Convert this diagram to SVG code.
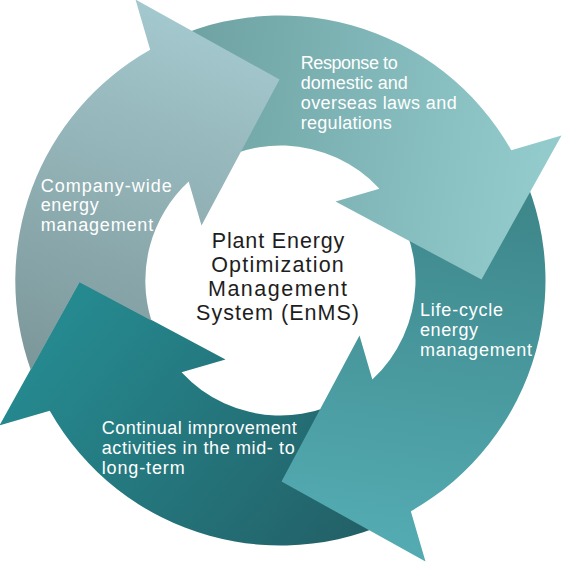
<svg xmlns="http://www.w3.org/2000/svg" width="563" height="562" viewBox="0 0 563 562">
  <defs>
    <linearGradient id="gGray" gradientUnits="userSpaceOnUse" x1="190" y1="20" x2="60" y2="400">
      <stop offset="0" stop-color="#A3C8CD"/>
      <stop offset="1" stop-color="#7A9497"/>
    </linearGradient>
    <linearGradient id="gResp" gradientUnits="userSpaceOnUse" x1="190" y1="100" x2="545" y2="150">
      <stop offset="0" stop-color="#6FA3A4"/>
      <stop offset="1" stop-color="#93CBCC"/>
    </linearGradient>
    <linearGradient id="gLife" gradientUnits="userSpaceOnUse" x1="470" y1="200" x2="420" y2="545">
      <stop offset="0" stop-color="#3E878B"/>
      <stop offset="1" stop-color="#53ABB1"/>
    </linearGradient>
    <linearGradient id="gCont" gradientUnits="userSpaceOnUse" x1="80" y1="290" x2="380" y2="530">
      <stop offset="0" stop-color="#258A90"/>
      <stop offset="1" stop-color="#235F66"/>
    </linearGradient>
  </defs>
  <style>
    .lbl { font-family: "Liberation Sans", Arial, sans-serif; font-size: 18px; fill: #FFFFFF; }
    .ctr { font-family: "Liberation Sans", Arial, sans-serif; font-size: 21.5px; fill: #1E1E1E; text-anchor: middle; }
  </style>

  <g id="connectors"></g>

  <g id="continual">
    <path fill="url(#gCont)" d="M 410.82 511.24 A 265 265 0 0 1 49.76 410.82 L -0.5 425.5 L 79.5 281.5 L 225.5 359.5 L 181.55 372.34 A 135 135 0 0 0 372.34 379.45 Z"/>
    <text class="lbl"><tspan x="101.7" y="434.3" textLength="195">Continual improvement</tspan><tspan x="101.7" y="454.3" textLength="193">activities in the mid- to</tspan><tspan x="101.7" y="473.5" textLength="83">long-term</tspan></text>
  </g>

  <g id="lifecycle">
    <path fill="url(#gLife)" d="M 511.24 150.18 A 265 265 0 0 1 410.82 511.24 L 425.5 561.5 L 281.5 481.5 L 359.5 335.5 L 372.34 379.45 A 135 135 0 0 0 379.45 188.66 Z"/>
    <text class="lbl"><tspan x="420" y="316" textLength="83">Life-cycle</tspan><tspan x="420" y="335.5" textLength="58">energy</tspan><tspan x="420" y="356" textLength="112">management</tspan></text>
  </g>

  <g id="response">
    <path fill="url(#gResp)" d="M 150.18 49.76 A 265 265 0 0 1 511.24 150.18 L 561.5 135.5 L 481.5 279.5 L 335.5 201.5 L 379.45 188.66 A 135 135 0 0 0 188.66 181.55 Z"/>
    <text class="lbl"><tspan x="300.7" y="69.3" textLength="97">Response to</tspan><tspan x="300.7" y="89.3" textLength="107">domestic and</tspan><tspan x="300.7" y="109.3" textLength="156">overseas laws and</tspan><tspan x="300.7" y="128.5" textLength="91">regulations</tspan></text>
  </g>

  <g id="companywide">
    <path fill="url(#gGray)" d="M 30.78 369.89 A 265 265 0 0 1 150.18 49.76 L 135.5 -0.5 L 279.5 79.5 L 201.5 225.5 L 188.66 181.55 A 135 135 0 0 0 151.38 320.6 L 79.5 282.2 Z"/>
    <text class="lbl"><tspan x="40.7" y="191.7" textLength="131">Company-wide</tspan><tspan x="40.7" y="211" textLength="58">energy</tspan><tspan x="40.7" y="231" textLength="112.5">management</tspan></text>
  </g>

  <g id="center">
    <text class="ctr"><tspan x="278" y="248.3" textLength="132.6">Plant Energy</tspan><tspan x="277.5" y="271.7" textLength="132.6">Optimization</tspan><tspan x="277.5" y="296" textLength="139">Management</tspan><tspan x="277.5" y="319.5" textLength="163">System (EnMS)</tspan></text>
  </g>
</svg>
